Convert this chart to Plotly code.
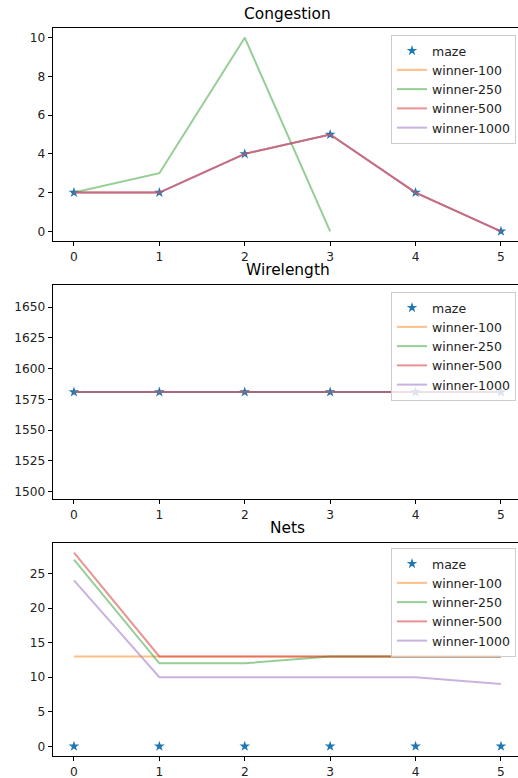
import plotly.graph_objects as go

W, H = 518, 778

steps = [0, 1, 2, 3, 4, 5]

# Congestion
cong_maze = [2, 2, 4, 5, 2, 0]
cong_w100 = [2, 2, 4, 5, 2, 0]
cong_w250 = [2, 3, 10, 0]
cong_w500 = [2, 2, 4, 5, 2, 0]
cong_w1000 = [2, 2, 4, 5, 2, 0]

# Wirelength
wl_maze = [1581, 1581, 1581, 1581, 1581, 1581]
wl_w100 = [1581, 1581, 1581, 1581, 1581, 1581]
wl_w250 = [1581, 1581, 1581, 1581, 1581, 1581]
wl_w500 = [1581, 1581, 1581, 1581, 1581, 1581]
wl_w1000 = [1581, 1581, 1581, 1581, 1581, 1581]

# Nets
nets_maze = [0, 0, 0, 0, 0, 0]
nets_w100 = [13, 13, 13, 13, 13, 13]
nets_w250 = [27, 12, 12, 13, 13, 13]
nets_w500 = [28, 13, 13, 13, 13, 13]
nets_w1000 = [24, 10, 10, 10, 10, 9]

titles = ["Congestion", "Wirelength", "Nets"]
series_names = ["maze", "winner-100", "winner-250", "winner-500", "winner-1000"]
line_colors = ["rgba(255,127,14,0.5)", "rgba(44,160,44,0.5)",
               "rgba(214,39,40,0.5)", "rgba(148,103,189,0.5)"]

panels = [
    [cong_maze, cong_w100, cong_w250, cong_w500, cong_w1000],
    [wl_maze, wl_w100, wl_w250, wl_w500, wl_w1000],
    [nets_maze, nets_w100, nets_w250, nets_w500, nets_w1000],
]
yranges = [[-0.5, 10.5], [1494.05, 1667.95], [-1.4, 29.4]]
ytickvals = [[0, 2, 4, 6, 8, 10],
             [1500, 1525, 1550, 1575, 1600, 1625, 1650],
             [0, 5, 10, 15, 20, 25]]

# reference pixel geometry of the axes boxes (top, bottom)
boxes = [(28, 241), (285, 499), (543, 756)]
title_y = [14, 270, 528]
legend_top = [35, 292, 548]
x_left = 52.6
px_per_unit = (501 - 74) / 5.0
x_range = [-0.25, -0.25 + (W - x_left) / px_per_unit]


def fx(px):
    return px / W


def fy(py):
    return 1 - py / H


fig = go.Figure()
layout = dict(
    width=W, height=H,
    margin=dict(l=0, r=0, t=0, b=0),
    paper_bgcolor="white", plot_bgcolor="white",
    font=dict(family="DejaVu Sans", size=12, color="black"),
    showlegend=True,
)
annotations = []

for i, data in enumerate(panels):
    n = "" if i == 0 else str(i + 1)
    xa, ya = "x" + n, "y" + n
    leg = "legend" + n
    for j, (name, vals) in enumerate(zip(series_names, data)):
        if j == 0:
            fig.add_trace(go.Scatter(
                x=steps[:len(vals)], y=vals, mode="markers", name=name,
                marker=dict(symbol="star", size=8, color="#1f77b4"),
                xaxis=xa, yaxis=ya, legend=leg))
        else:
            fig.add_trace(go.Scatter(
                x=steps[:len(vals)], y=vals, mode="lines", name=name,
                line=dict(color=line_colors[j - 1], width=2),
                xaxis=xa, yaxis=ya, legend=leg))
    top, bot = boxes[i]
    layout["xaxis" + n] = dict(
        domain=[fx(x_left), 1.0], range=x_range, anchor=ya,
        tickvals=steps, ticks="outside", ticklen=4, tickwidth=1,
        tickcolor="black", showline=True, linecolor="black", linewidth=1,
        mirror=True, showgrid=False, zeroline=False,
        tickfont=dict(size=12.2, color="#222"))
    layout["yaxis" + n] = dict(
        domain=[fy(bot), fy(top)], range=yranges[i], anchor=xa,
        tickvals=ytickvals[i], ticks="outside", ticklen=4, tickwidth=1,
        tickcolor="black", showline=True, linecolor="black", linewidth=1,
        showgrid=False, zeroline=False,
        tickfont=dict(size=12.2, color="#222"))
    layout[leg] = dict(
        x=fx(516), y=fy(legend_top[i]), xanchor="right", yanchor="top",
        bgcolor="rgba(255,255,255,0.8)", bordercolor="#cccccc", borderwidth=1,
        font=dict(size=12.5, color="#222"), itemwidth=30)
    annotations.append(dict(
        text=titles[i], x=fx((x_left + 522.4) / 2), y=fy(title_y[i]),
        xref="paper", yref="paper", xanchor="center", yanchor="middle",
        showarrow=False, font=dict(size=15.4, color="black")))

layout["annotations"] = annotations
fig.update_layout(**layout)
fig.write_html(
    "out.html",
    config={"displayModeBar": False},
    post_script="document.body.style.margin='0';document.body.style.overflow='hidden';",
)
